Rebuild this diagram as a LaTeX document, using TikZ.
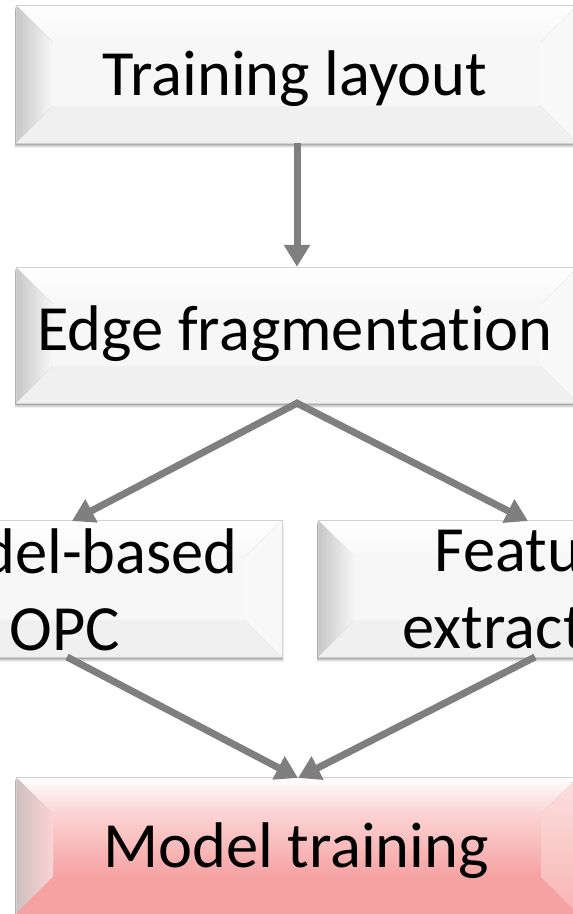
\documentclass[tikz,border=0pt]{standalone}
\usepackage{fontspec}
\setmainfont{Carlito}[Ligatures={NoCommon}]
\usetikzlibrary{arrows.meta}
\definecolor{arrowgray}{HTML}{7F7F7F}
\definecolor{facegray}{HTML}{F7F7F7}
\definecolor{pinktop}{HTML}{FBD3D3}
\definecolor{pinkbot}{HTML}{F6A2A2}
\tikzset{
  boxtext/.style={font=\fontsize{64.5}{77}\selectfont, align=center, inner sep=0pt},
  flowarrow/.style={draw=arrowgray, line width=7pt, -{Triangle[width=25pt,length=22pt]}},
}
% bevel box: #1 name, #2 x1, #3 y1, #4 x2, #5 y2, #6 face top, #7 face bottom, #8 left facet outer, #9 bottom facet
\newcommand{\bevelbox}[9]{%
  \pgfmathsetmacro{\bx}{#2+37}\pgfmathsetmacro{\by}{#3+37}
  \pgfmathsetmacro{\cx}{#4-37}\pgfmathsetmacro{\cy}{#5-37}
  % shadow
  \foreach \o/\op in {5/0.06,4/0.08,3/0.1,2/0.12,1/0.14}{
    \fill[black, opacity=\op] (#2-\o*0.3,#3+\o) rectangle (#4+\o*0.3,#5+\o);
  }
  \shade[top color=#6, bottom color=#7] (\bx,\by) rectangle (\cx,\cy);
  \shade[top color=white, bottom color=#6] (#2,#3) -- (#4,#3) -- (\cx,\by) -- (\bx,\by) -- cycle;
  \shade[left color=#8, right color=#6] (#2,#3) -- (\bx,\by) -- (\bx,\cy) -- (#2,#5) -- cycle;
  \fill[#9] (#2,#5) -- (\bx,\cy) -- (\cx,\cy) -- (#4,#5) -- cycle;
  \shade[top color=#6!70!white, bottom color=#7!80!white] (#4,#3) -- (\cx,\by) -- (\cx,\cy) -- (#4,#5) -- cycle;
  \draw[black!18, line width=0.8pt] (#2,#3) rectangle (#4,#5);
  \node[inner sep=0pt, minimum width=#4-#2, minimum height=#5-#3] (#1) at ({(#2+#4)/2},{(#3+#5)/2}) {};
}
\begin{document}
\begin{tikzpicture}[x=1pt, y=-1pt]
\useasboundingbox (0,0) rectangle (573,914);
\fill[white] (0,0) rectangle (573,914);

\bevelbox{A}{16}{5}{578}{143}{facegray}{facegray}{black!22}{black!6}
\bevelbox{B}{16}{267}{578}{403}{facegray}{facegray}{black!22}{black!6}
\bevelbox{C}{-152}{520}{282}{657}{facegray}{facegray}{black!22}{black!6}
\bevelbox{D}{318}{520}{752}{657}{facegray}{facegray}{black!22}{black!6}
\bevelbox{E}{16}{777}{578}{914}{pinktop}{pinkbot}{red!25!black!25}{pinkbot}

\node[boxtext, anchor=base] (tA) at (295,95) {Training layout};
\node[boxtext, anchor=base] (tB) at (295,350) {Edge fragmentation};
\node[boxtext] (tC) at (65,590) {Model-based\\OPC};
\node[boxtext] (tD) at (535,590) {Feature\\extraction};
\node[boxtext, anchor=base] (tE) at (296,867) {Model training};

\coordinate (cin) at (72,521);
\coordinate (din) at (528,521);
\coordinate (cout) at (67,657);
\coordinate (dout) at (535,657);
\coordinate (ein) at (298,778);

\draw[flowarrow] (A.south) -- (B.north);
\draw[flowarrow, shorten <=-2pt] (B.south) -- (cin);
\draw[flowarrow, shorten <=-2pt] (B.south) -- (din);
\draw[flowarrow] (cout) -- (ein);
\draw[flowarrow] (dout) -- (ein);
\end{tikzpicture}
\end{document}
